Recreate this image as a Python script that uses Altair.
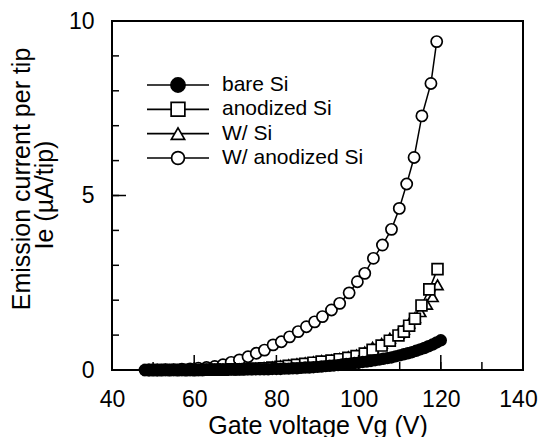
import altair as alt
import pandas as pd

# ---------------- data ----------------
series_names = ["bare Si", "anodized Si", "W/ Si", "W/ anodized Si"]

bare_vg = [48, 49, 50, 51, 52, 53, 54, 55, 56, 57, 58, 59, 60,
           61, 62, 63, 64, 65, 66, 67, 68, 69, 70,
           71, 72, 73, 74, 75, 76, 77, 78, 79, 80,
           81, 82, 83, 84, 85, 86, 87, 88, 89, 90,
           91, 92, 93, 94, 95, 96, 97, 98, 99, 100,
           101, 102, 103, 104, 105, 106, 107, 108, 109, 110,
           111, 112, 113, 114, 115, 116, 117, 118, 119, 120]
bare_ie = [0.0, 0.0, 0.0, 0.0, 0.0, 0.0, 0.0, 0.0, 0.0, 0.0, 0.0, 0.0, 0.0,
           0.0, 0.0, 0.01, 0.01, 0.01, 0.01, 0.01, 0.01, 0.01, 0.01,
           0.01, 0.02, 0.02, 0.02, 0.02, 0.02, 0.02, 0.02, 0.03, 0.03,
           0.03, 0.04, 0.04, 0.05, 0.05, 0.06, 0.07, 0.07, 0.08, 0.09,
           0.10, 0.11, 0.12, 0.13, 0.14, 0.16, 0.17, 0.18, 0.20, 0.21,
           0.23, 0.24, 0.26, 0.28, 0.30, 0.32, 0.34, 0.36, 0.39, 0.42,
           0.45, 0.48, 0.51, 0.55, 0.59, 0.63, 0.68, 0.73, 0.79, 0.85]

anod_vg = [49, 51, 53, 55, 57, 59, 61, 63, 65, 67, 69, 71, 73, 75, 77, 79, 81, 83, 85, 87, 89, 91,
           93.4, 95.4, 97.5, 99.5, 101.5, 103.4, 105.6, 107.6, 109.7, 111.0, 112.3, 113.7, 115.3, 117.2, 119.2]
anod_ie = [0.0, 0.0, 0.0, 0.0, 0.0, 0.0, 0.0, 0.01, 0.01, 0.01, 0.02, 0.02, 0.03, 0.04, 0.05, 0.07, 0.09, 0.12, 0.15, 0.18, 0.21, 0.24,
           0.27, 0.31, 0.35, 0.40, 0.47, 0.58, 0.70, 0.84, 0.99, 1.10, 1.27, 1.47, 1.85, 2.31, 2.89]

wsi_vg = [49, 51, 53, 55, 57, 59, 61, 63, 65, 67, 69, 71, 73, 75, 77, 79, 81, 83, 85, 87, 89, 91,
          93.4, 95.4, 97.5, 99.5, 101.5, 103.4, 105.6, 107.6, 109.7, 111.0, 112.3, 113.7, 115.0, 116.6, 118.0, 119.2]
wsi_ie = [0.0, 0.0, 0.0, 0.0, 0.0, 0.0, 0.0, 0.01, 0.01, 0.02, 0.02, 0.03, 0.04, 0.05, 0.07, 0.09, 0.12, 0.15, 0.18, 0.21, 0.24, 0.27,
          0.29, 0.33, 0.38, 0.43, 0.52, 0.65, 0.76, 0.91, 1.05, 1.17, 1.34, 1.50, 1.67, 1.88, 2.10, 2.44]

wanod_vg = [49, 51, 53, 55, 57, 59, 61, 63, 65, 67, 69.0, 71.0, 73.1, 75.1, 77.1, 79.2, 81.2, 83.2, 85.3, 87.3, 89.3, 91.2,
            93.4, 95.4, 97.7, 99.7, 101.5, 103.6, 105.8, 108.0, 109.9, 111.7, 113.5, 115.4, 117.6, 119.0]
wanod_ie = [0.0, 0.0, 0.01, 0.01, 0.02, 0.03, 0.05, 0.07, 0.10, 0.15, 0.22, 0.29, 0.38, 0.48, 0.57, 0.72, 0.81, 0.95, 1.10, 1.24, 1.38, 1.53,
            1.72, 1.91, 2.21, 2.53, 2.77, 3.20, 3.58, 4.03, 4.63, 5.33, 6.09, 7.28, 8.21, 9.41]

x_labels = [40, 60, 80, 100, 120, 140]
x_minor = [40, 50, 60, 70, 80, 90, 100, 110, 120, 130, 140]
y_labels = [0, 5, 10]
y_minor = [0, 1, 2, 3, 4, 5, 6, 7, 8, 9, 10]

x_title = "Gate voltage Vg (V)"
y_title = ["Emission current per tip", "Ie (\u00b5A/tip)"]

# ---------------- tables ----------------
frames = []
for name, xs_, ys_ in [("W/ anodized Si", wanod_vg, wanod_ie), ("W/ Si", wsi_vg, wsi_ie),
                       ("anodized Si", anod_vg, anod_ie), ("bare Si", bare_vg, bare_ie)]:
    frames.append(pd.DataFrame({"series": name, "vg": xs_, "ie": ys_}))
df = pd.concat(frames, ignore_index=True)
df["idx"] = range(len(df))

shapes = ["circle", "square", "triangle-up", "circle"]
fills = ["black", "white", "white", "white"]
plot_sizes = [115, 125, 120, 110]
leg_sizes = [200, 165, 170, 200]

FONT = "Liberation Sans"
W, H = 411, 349

xs = alt.Scale(domain=[40, 140], nice=False, zero=False)
ys = alt.Scale(domain=[0, 10], nice=False, zero=False)

base = alt.Chart(df)

lines = base.mark_line(color="black", strokeWidth=1.5).encode(
    x=alt.X("vg:Q", scale=xs,
            axis=alt.Axis(values=x_labels, ticks=False, tickSize=0, domain=False, grid=False,
                          labelFlush=False, labelBaseline="middle",
                          labelOffset=alt.ExprRef(expr="datum.value == 140 ? -5 : 0"),
                          labelFontSize=23, labelFont=FONT, labelColor="black", labelPadding=29,
                          title=x_title, titleFont=FONT, titleFontSize=25, titleFontWeight="normal",
                          titleColor="black", titleBaseline="alphabetic", titleY=63)),
    y=alt.Y("ie:Q", scale=ys,
            axis=alt.Axis(values=y_labels, ticks=False, tickSize=0, domain=False, grid=False,
                          labelFlush=False, labelBaseline="middle",
                          labelFontSize=23, labelFont=FONT, labelColor="black", labelPadding=18,
                          title=None)),
    detail="series:N",
    order="vg:Q",
)

points = base.mark_point(filled=True, stroke="black", strokeWidth=1.7, opacity=1, fillOpacity=1).encode(
    x=alt.X("vg:Q", scale=xs),
    y=alt.Y("ie:Q", scale=ys, axis=None),
    shape=alt.Shape("series:N", scale=alt.Scale(domain=series_names, range=shapes), legend=None),
    fill=alt.Fill("series:N", scale=alt.Scale(domain=series_names, range=fills), legend=None),
    size=alt.Size("series:N", scale=alt.Scale(domain=series_names, range=plot_sizes), legend=None),
    order="idx:Q",
)

# inward ticks
ymin_df = pd.DataFrame({"v": y_minor})
ymaj_df = pd.DataFrame({"v": y_labels})
xmin_df = pd.DataFrame({"v": x_minor})
xmaj_df = pd.DataFrame({"v": x_labels})

ytick_minor = alt.Chart(ymin_df).mark_rule(color="black", strokeWidth=1.5).encode(
    y=alt.Y("v:Q", scale=ys, axis=None), x=alt.value(0), x2=alt.value(7))
ytick_major = alt.Chart(ymaj_df).mark_rule(color="black", strokeWidth=1.5).encode(
    y=alt.Y("v:Q", scale=ys, axis=None), x=alt.value(0), x2=alt.value(14))
xtick_minor = alt.Chart(xmin_df).mark_rule(color="black", strokeWidth=1.5).encode(
    x=alt.X("v:Q", scale=xs), y=alt.value(H), y2=alt.value(H - 8))
xtick_major = alt.Chart(xmaj_df).mark_rule(color="black", strokeWidth=1.5).encode(
    x=alt.X("v:Q", scale=xs), y=alt.value(H), y2=alt.value(H - 15))

# legend drawn inside the plot
leg_df = pd.DataFrame({"series": series_names})
leg_y = alt.Y("series:N", scale=alt.Scale(type="point", domain=series_names, range=[64, 137], padding=0), axis=None)
leg_lines = alt.Chart(leg_df).mark_rule(color="black", strokeWidth=1.7).encode(
    y=leg_y, x=alt.value(35), x2=alt.value(97))
leg_pts = alt.Chart(leg_df).mark_point(filled=True, stroke="black", strokeWidth=1.7, opacity=1, fillOpacity=1).encode(
    y=leg_y, x=alt.value(66),
    shape=alt.Shape("series:N", scale=alt.Scale(domain=series_names, range=shapes), legend=None),
    fill=alt.Fill("series:N", scale=alt.Scale(domain=series_names, range=fills), legend=None),
    size=alt.Size("series:N", scale=alt.Scale(domain=series_names, range=leg_sizes), legend=None),
)
leg_text = alt.Chart(leg_df).mark_text(align="left", baseline="middle", font=FONT, fontSize=21, color="black").encode(
    y=leg_y, x=alt.value(110), text="series:N")

# y-axis title (two lines)
yt_df = pd.DataFrame({"t": y_title, "line": [0, 1]})
yt1 = alt.Chart(yt_df).transform_filter("datum.line == 0").mark_text(
    angle=270, align="center", baseline="middle", font=FONT, fontSize=25, color="black").encode(
    text="t:N", x=alt.value(-90), y=alt.value(158))
yt2 = alt.Chart(yt_df).transform_filter("datum.line == 1").mark_text(
    angle=270, align="center", baseline="middle", font=FONT, fontSize=25, color="black").encode(
    text="t:N", x=alt.value(-67), y=alt.value(174))

chart = alt.layer(
    lines, points, ytick_minor, ytick_major, xtick_minor, xtick_major,
    leg_lines, leg_pts, leg_text, yt1, yt2
).resolve_scale(
    y="independent", shape="independent", fill="independent", size="independent"
).properties(
    width=W, height=H,
    autosize=alt.AutoSizeParams(type="none"),
    padding={"left": 104, "top": 13, "right": 16, "bottom": 67},
    background="white",
).configure_view(
    stroke="black", strokeWidth=2
)

chart.save("out.html", embed_options={"renderer": "svg", "actions": False})
